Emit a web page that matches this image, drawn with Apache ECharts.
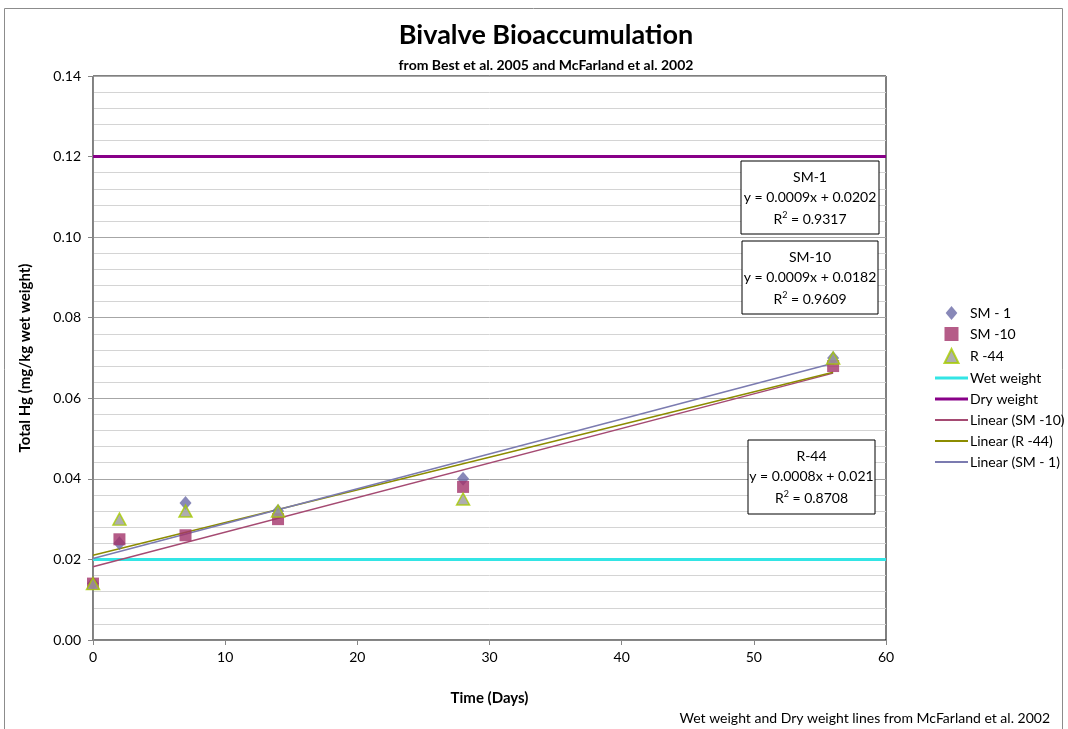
<!DOCTYPE html>
<html><head><meta charset="utf-8">
<script src="https://cdn.jsdelivr.net/npm/echarts@6/dist/echarts.min.js"></script>
<style>html,body{margin:0;padding:0;background:#fff}#c{width:1068px;height:729px}</style>
</head><body><div id="c"></div>
<script>
const days = [0, 2, 7, 14, 28, 56];
const sm1 = [0.014, 0.024, 0.034, 0.032, 0.040, 0.070];
const sm10 = [0.014, 0.025, 0.026, 0.030, 0.038, 0.068];
const r44 = [0.014, 0.030, 0.032, 0.032, 0.035, 0.070];
const wetWeight = 0.02;
const dryWeight = 0.12;
const xRange = [0, 60];
const yTicks = [0, 0.02, 0.04, 0.06, 0.08, 0.10, 0.12, 0.14];
const xTicks = [0, 10, 20, 30, 40, 50, 60];

function pairs(xs, ys){ return xs.map((x,i)=>[x, ys[i]]); }
function fit(xs, ys){
  const n = xs.length;
  const mx = xs.reduce((a,b)=>a+b,0)/n, my = ys.reduce((a,b)=>a+b,0)/n;
  let sxy=0, sxx=0;
  for(let i=0;i<n;i++){ sxy += (xs[i]-mx)*(ys[i]-my); sxx += (xs[i]-mx)*(xs[i]-mx); }
  const m = sxy/sxx, b = my - m*mx;
  const x0 = xs[0], x1 = xs[n-1];
  return [[x0, m*x0+b],[x1, m*x1+b]];
}
const font = 'Lato, "Open Sans", sans-serif';
const lineIcon = 'path://M0,0 L44,0 L44,4 L0,4Z';
const thinIcon = 'path://M0,0 L66,0 L66,4 L0,4Z';
const chart = echarts.init(document.getElementById('c'));
const box = (left, top, w, h, title, eq, r2) => ({
  type:'group', left:left, top:top, z:100, children:[
    {type:'rect', z:100, shape:{x:0,y:0,width:w,height:h}, style:{fill:'#fff', stroke:'#000', lineWidth:1}},
    {type:'text', z:101, x:w/2, y:9, style:{text:title, fill:'#000', font:'14px '+font, align:'center', verticalAlign:'top'}},
    {type:'text', z:101, x:w/2, y:29, style:{text:eq, fill:'#000', font:'14px '+font, align:'center', verticalAlign:'top'}},
    {type:'text', z:101, x:w/2, y:50, style:{text:'{a|R}{s|2}{a| = '+r2+'}', fill:'#000', align:'center', verticalAlign:'top',
      rich:{a:{fontSize:14, fontFamily:font, color:'#000', verticalAlign:'bottom'}, s:{fontSize:9, fontFamily:font, color:'#000', verticalAlign:'top', padding:[0,0,6,0]}}}}
  ]});
chart.setOption({
  animation:false,
  textStyle:{fontFamily:font},
  title:[
    {text:'Bivalve Bioaccumulation', left:541, top:17, textAlign:'center', textStyle:{fontSize:27, fontWeight:'bold', color:'#000', fontFamily:font}},
    {text:'from Best et al. 2005 and McFarland et al. 2002', left:541, top:53, textAlign:'center', textStyle:{fontSize:14, fontWeight:'bold', color:'#000', fontFamily:font}}
  ],
  grid:{left:93, right:182, top:76, bottom:89, show:true, borderColor:'#000', borderWidth:1},
  legend:{
    orient:'vertical', left:930, top:301, itemWidth:33, itemHeight:14, itemGap:7,
    symbolKeepAspect:true,
    textStyle:{fontSize:14, color:'#000', fontFamily:font, padding:[0,0,0,-3]},
    data:[
      {name:'SM - 1', icon:'path://M5,0 L10,6 L5,12 L0,6Z'},
      {name:'SM -10', icon:'path://M0,0 L10,0 L10,10 L0,10Z'},
      {name:'R -44', icon:'path://M5,0 L10,10 L0,10Z'},
      {name:'Wet weight', icon:lineIcon},
      {name:'Dry weight', icon:lineIcon},
      {name:'Linear (SM -10)', icon:thinIcon},
      {name:'Linear (R -44)', icon:thinIcon},
      {name:'Linear (SM - 1)', icon:thinIcon}
    ]
  },
  xAxis:{type:'value', min:xRange[0], max:xRange[1], interval:10,
    name:'Time (Days)', nameLocation:'middle', nameGap:51,
    nameTextStyle:{fontSize:15, fontWeight:'bold', color:'#000', fontFamily:font},
    axisLine:{lineStyle:{color:'#868686'}}, axisTick:{show:true, length:5, lineStyle:{color:'#868686'}},
    axisLabel:{fontSize:14, color:'#000', margin:10}, splitLine:{show:false}},
  yAxis:{type:'value', min:0, max:0.14, interval:0.02,
    name:'Total Hg (mg/kg wet weight)', nameLocation:'middle', nameGap:60,
    nameTextStyle:{fontSize:15, fontWeight:'bold', color:'#000', fontFamily:font},
    axisLine:{show:true, lineStyle:{color:'#868686'}}, axisTick:{show:true, length:5, lineStyle:{color:'#868686'}},
    axisLabel:{fontSize:14, color:'#000', margin:12, formatter:v=>v.toFixed(2)},
    splitLine:{show:true, lineStyle:{color:'#a6a6a6', width:1}},
    minorTick:{show:false, splitNumber:5},
    minorSplitLine:{show:true, lineStyle:{color:'#d4d4d4', width:1}}},
  series:[
    {name:'Wet weight', type:'line', data:[[xRange[0],wetWeight],[xRange[1],wetWeight]], symbol:'none', lineStyle:{color:'#33e5e5', width:3}, itemStyle:{color:'#33e5e5'}, z:2},
    {name:'Dry weight', type:'line', data:[[xRange[0],dryWeight],[xRange[1],dryWeight]], symbol:'none', lineStyle:{color:'#880088', width:3}, itemStyle:{color:'#880088'}, z:2},
    {name:'Linear (SM -10)', type:'line', data:fit(days, sm10), symbol:'none', lineStyle:{color:'#a54a72', width:1.5}, itemStyle:{color:'#a54a72'}, z:3},
    {name:'Linear (R -44)', type:'line', data:fit(days, r44), symbol:'none', lineStyle:{color:'#8c8c00', width:1.5}, itemStyle:{color:'#8c8c00'}, z:3},
    {name:'Linear (SM - 1)', type:'line', data:fit(days, sm1), symbol:'none', lineStyle:{color:'#7b7bb0', width:1.5}, itemStyle:{color:'#7b7bb0'}, z:3},
    {name:'SM - 1', type:'scatter', data:pairs(days, sm1), symbol:'diamond', symbolSize:[12,14], itemStyle:{color:'#6a6aa6'}, z:4},
    {name:'SM -10', type:'scatter', data:pairs(days, sm10), symbol:'rect', symbolSize:12, itemStyle:{color:'#a3336a'}, z:5},
    {name:'R -44', type:'scatter', data:pairs(days, r44), symbol:'triangle', symbolSize:[13,12], itemStyle:{color:'#9a9a9a', borderColor:'#a6cc00', borderWidth:1.5}, z:6}
  ],
  graphic:[
    {type:'rect', shape:{x:4.5,y:8.5,width:1058,height:740}, style:{fill:null, stroke:'#8c8c8c', lineWidth:1}, silent:true},
    box(740.5, 160.5, 138, 73, 'SM-1', 'y = 0.0009x + 0.0202', '0.9317'),
    box(741.5, 240.5, 136, 73, 'SM-10', 'y = 0.0009x + 0.0182', '0.9609'),
    box(747.5, 439.5, 127, 74, 'R-44', 'y = 0.0008x + 0.021', '0.8708'),
    {type:'text', right:18, top:711, style:{text:'Wet weight and Dry weight lines from McFarland et al. 2002', fill:'#000', font:'14px '+font}}
  ]
});
</script></body></html>
